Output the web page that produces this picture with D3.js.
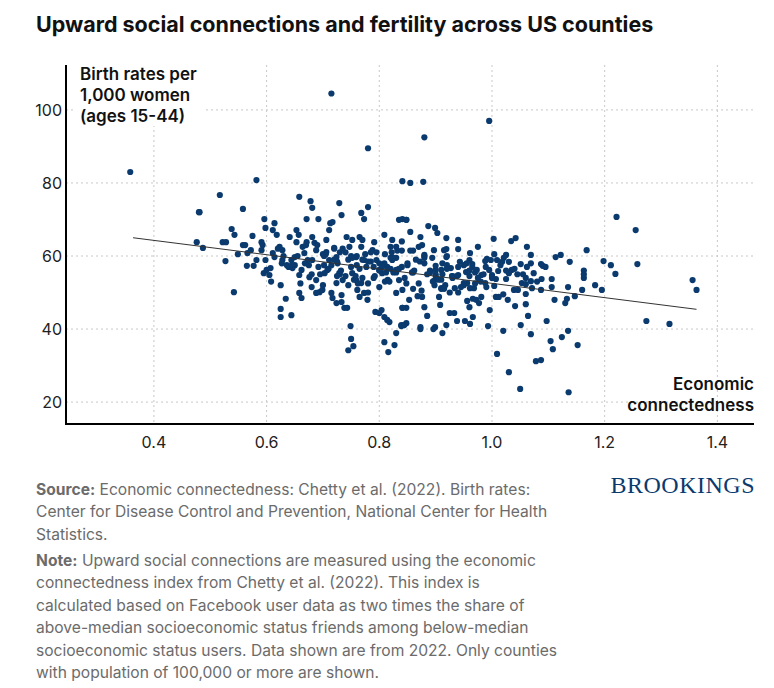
<!DOCTYPE html><html><head><meta charset="utf-8">
<script src="https://cdn.jsdelivr.net/npm/d3@7"></script>
<style>body{margin:0;background:#fff;font-family:Inter,"Open Sans",sans-serif}</style></head><body>
<svg id="c" width="774" height="688"></svg>
<script>
const xTicks=[0.4,0.6,0.8,1.0,1.2,1.4];
const yTicks=[20,40,60,80,100];
const trend=[[0.363,65],[1.363,45.4]];
const ecX=[0.358,0.48,0.517,0.582,0.715,0.78,0.88,0.995,0.855,0.878,0.841,1.221,1.255,1.258,1.274,1.315,1.356,1.363,1.219,1.211,1.198,1.195,1.183,1.168,1.163,1.163,1.163,1.16,1.152,1.136,1.138,1.147,1.135,1.133,1.13,1.135,1.124,1.108,1.104,1.097,1.087,1.078,1.111,1.122,1.113,1.106,1.106,1.095,1.09,1.087,1.088,1.087,1.069,1.069,1.074,1.069,1.071,1.062,1.051,1.062,1.053,1.06,1.06,1.06,1.064,1.069,1.051,1.05,1.03,1.009,1.02,1.042,1.034,1.003,1.039,1.046,1.041,1.028,1.025,1.021,1.018,1.03,1.035,1.03,1.025,1.011,1.007,1.004,1.007,1.012,1.004,1.009,0.998,0.991,0.988,0.996,0.993,0.989,0.995,1.0,0.988,0.975,0.961,0.96,0.965,0.965,0.973,0.981,0.975,0.968,0.961,0.956,0.95,0.966,0.972,0.977,0.981,0.956,0.96,0.966,0.961,0.952,0.938,0.933,0.925,0.94,0.94,0.943,0.95,0.954,0.94,0.934,0.927,0.929,0.919,0.919,0.919,0.915,0.912,0.91,0.917,0.91,0.906,0.908,0.919,0.912,0.899,0.896,0.897,0.894,0.9,0.9,0.897,0.885,0.887,0.899,0.903,0.873,0.873,0.876,0.88,0.873,0.876,0.88,0.848,0.844,0.839,0.848,0.841,0.853,0.855,0.848,0.841,0.481,0.558,0.658,0.678,0.681,0.729,0.733,0.768,0.773,0.78,0.596,0.614,0.598,0.671,0.692,0.713,0.717,0.538,0.543,0.575,0.476,0.487,0.522,0.528,0.527,0.542,0.549,0.558,0.562,0.565,0.577,0.566,0.572,0.582,0.591,0.593,0.591,0.595,0.6,0.605,0.607,0.598,0.611,0.618,0.611,0.614,0.625,0.634,0.625,0.625,0.644,0.623,0.628,0.628,0.627,0.641,0.653,0.657,0.653,0.639,0.646,0.644,0.65,0.658,0.662,0.658,0.662,0.664,0.671,0.667,0.673,0.681,0.685,0.688,0.681,0.676,0.688,0.68,0.694,0.699,0.688,0.706,0.711,0.706,0.711,0.708,0.703,0.715,0.717,0.724,0.733,0.733,0.72,0.724,0.726,0.729,0.735,0.724,0.738,0.743,0.749,0.75,0.745,0.754,0.742,0.747,0.752,0.759,0.765,0.768,0.77,0.773,0.777,0.752,0.759,0.761,0.768,0.773,0.765,0.779,0.791,0.788,0.795,0.8,0.805,0.809,0.814,0.793,0.8,0.804,0.809,0.814,0.818,0.83,0.809,0.827,0.816,0.809,0.823,0.83,0.835,0.848,0.823,0.83,0.835,0.841,0.83,0.841,0.839,0.844,
0.70,0.72,0.74,0.76,0.78,0.80,0.82,0.84,0.86,0.88,0.90,0.92,0.71,0.73,0.75,0.77,0.79,0.81,0.83,0.85,0.87,0.89,0.91,0.93,0.95,0.97,0.99,0.70,0.74,0.78,0.82,0.86,0.90,0.94,0.98,1.02,0.72,0.76,0.80,0.84,0.88,0.92,0.96,1.00,0.69,0.73,0.77,0.81,0.85,0.89,0.93,0.97,0.75,0.79,0.83,0.87,0.91,0.66,0.68,0.86,0.88,0.82,0.84,0.78,0.80,0.92,0.94,0.96,1.04,1.06,1.08,0.63,0.65,0.67,0.855,0.865,0.875,0.815,0.825,0.835,0.785,0.795,0.745,0.755,0.905,0.915,0.925,0.985,1.015,1.045,0.705,0.715,0.725,0.735,0.765,0.775,
0.645,0.655,0.675,0.695,0.725,0.745,0.785,0.805,0.825,0.845,0.862,0.885,0.895,0.945,0.955,1.025,1.055,0.608,0.62,0.636,0.702,0.732,0.752,0.812,0.832,0.858,0.872,0.898,0.912,0.938,0.702,0.762,0.792,0.822,0.848,0.868,0.692,0.668,0.758,0.818];
const birthRate=[83,72,76.7,80.8,104.5,89.5,92.5,97,80,80.3,80.5,70.7,67.1,57.8,42.2,41.4,53.4,50.7,55.1,57.5,58.6,50.7,52,61.6,56,54,55,50.7,35.6,22.7,58.4,49,51.5,48.3,47.1,39.5,37.8,34.5,36.7,42.2,31.5,31.2,48,60.3,59.7,53.7,51.5,57,57.3,57.8,53.7,50.7,60.3,58,55.3,53.1,51.2,62.5,57.8,57,52.6,52.3,49.6,46.8,43.6,38.6,41.1,23.6,28.2,33.2,39.5,64.9,64.1,64.7,50.7,50.7,46.3,48,60.3,59.5,58.4,58.4,56.2,55.3,53.7,55.9,53.7,51.8,48.8,48.8,60.5,58.9,58.9,59.2,58.6,45.2,40.8,57,56.2,54.8,52.6,62.5,60.8,58.9,57.8,57,56.2,54.8,54,51.2,51.2,52.6,52.6,48.3,48,47.1,48.8,47.7,46,43.3,41.4,42.2,42.2,44.4,44.4,64.4,61.9,58.4,57.5,55.6,54.8,51.2,56.7,54.5,64.9,61.9,59.7,61.6,58,56.2,52,51.2,48.8,46.6,41.1,38.9,40.5,40,61.6,59.5,57.3,56.2,53.2,43.6,68.2,67.7,66.3,40.5,40,48.8,46,65.2,63,60.3,41.6,41.1,40.8,45.8,45.8,48,66.6,69.9,70.1,72,72.9,76.2,75,73.2,74.5,71.2,71.8,70.1,73.4,70.1,69,67.7,70.1,70.1,69,69.3,67.4,65.8,65.5,63.8,62.2,63.8,63.8,58.6,50.1,60.5,63,63,57.3,57.3,60.8,61.6,58.9,63.8,63,61.6,55.3,56.2,54.8,56.7,58.9,67.1,65.8,60.8,59.7,52,48.3,45.5,43.3,43.8,62.5,61.6,58.9,58,65.2,67.1,65.8,63.8,57,56.7,58.9,59.7,54.8,56.2,49.9,48.5,62.5,63.8,60.8,58.9,65.2,63.6,61.6,58.9,54.2,53.4,51.5,50.1,50.7,49.9,64.4,67.1,61.1,58.9,56.2,55.3,49.9,48.5,47.1,49.3,47.4,62.2,59.7,58,55.3,53.4,52.6,45.8,45.8,40.8,37.3,34.2,35.3,65.2,62.5,64.4,59.7,65.2,62.5,64.4,58.9,57,55.3,53.4,50.7,52.6,49.9,48.8,48,63.8,61.6,58.9,56.2,55.3,58,57,44.7,44.4,45.2,43.3,42.5,41.9,38.9,36.4,35.6,33.7,65.8,64.4,62.5,69.9,69.9,58.9,56.2,53.4,50.7,49.9,45.8,41.1,41.1,
60.5,59,61,57.5,58.5,56,59.5,57,55.5,58,54.5,56.5,56.5,55,60,54,57,53,55.5,57.5,52.5,56,53.5,54.5,52,55.5,51.5,52,54.5,52.5,56.5,51,55,50,53,49.5,62,60,58,61.5,59.5,57.5,56,54,63,61,59,60.5,58,55.5,54,52.5,57,54,59.5,62.5,51,52.5,55,61.5,60,62.5,64,50,51.5,60,57,54.5,56.5,54,53,60,57.5,63,61.5,59,50.5,53.5,55.5,56.5,58.5,61,52,53.5,53.5,51,50,55,57.5,55,60.5,57.5,54.5,62,56.5,60.5,57.5,
60,57.5,55,58.5,59,61,57,59.5,54,56,55,53,51.5,58,56,55,53,62,57.5,60,56,59.5,55.5,61.5,55.5,58.5,52,55,54.5,57.5,52.5,54.5,61,52.5,49,57,58,54.5,53,63];
const W=774,H=688,L=66,R=754,T=65,B=424;
const svg=d3.select("#c");
const x=d3.scaleLinear().domain([0.244,1.465]).range([L,R]);
const y=d3.scaleLinear().domain([14,112.3]).range([B,T]);
svg.append("text").attr("x",36).attr("y",32).attr("font-size",21.5).attr("font-weight",700).attr("fill","#111").text("Upward social connections and fertility across US counties");
svg.append("g").selectAll("line").data(yTicks).join("line").attr("x1",L).attr("x2",R).attr("y1",d=>y(d)).attr("y2",d=>y(d)).attr("stroke","#c8c8c8").attr("stroke-dasharray","2,3");
svg.append("g").selectAll("line").data(xTicks).join("line").attr("y1",T).attr("y2",B).attr("x1",d=>x(d)).attr("x2",d=>x(d)).attr("stroke","#c8c8c8").attr("stroke-dasharray","2,3");
const pts=ecX.map((v,i)=>[v,birthRate[i]]);
svg.append("g").selectAll("circle").data(pts).join("circle").attr("cx",d=>x(d[0])).attr("cy",d=>y(d[1])).attr("r",3.1).attr("fill","#0a3a6e");
svg.append("line").attr("x1",x(trend[0][0])).attr("y1",y(trend[0][1])).attr("x2",x(trend[1][0])).attr("y2",y(trend[1][1])).attr("stroke","#333").attr("stroke-width",1);
svg.append("line").attr("x1",L).attr("x2",L).attr("y1",T).attr("y2",B+1).attr("stroke","#000").attr("stroke-width",2);
svg.append("line").attr("x1",L).attr("x2",R).attr("y1",B).attr("y2",B).attr("stroke","#000").attr("stroke-width",2);
svg.append("g").selectAll("text").data(yTicks).join("text").attr("x",62).attr("y",d=>y(d)+6).attr("text-anchor","end").attr("font-size",16).attr("fill","#222").text(d=>d);
svg.append("g").selectAll("text").data(xTicks).join("text").attr("x",d=>x(d)).attr("y",448).attr("text-anchor","middle").attr("font-size",16).attr("fill","#222").text(d=>d.toFixed(1));
const yl=["Birth rates per","1,000 women","(ages 15-44)"];
svg.append("rect").attr("x",76).attr("y",62).attr("width",130).attr("height",64).attr("fill","#fff");
svg.append("g").selectAll("text").data(yl).join("text").attr("x",80).attr("y",(d,i)=>80+i*21).attr("font-size",17).attr("font-weight",600).attr("fill","#111").text(d=>d);
const xl=["Economic","connectedness"];
svg.append("g").selectAll("text").data(xl).join("text").attr("x",754).attr("y",(d,i)=>390+i*21).attr("text-anchor","end").attr("font-size",17).attr("font-weight",600).attr("fill","#111").text(d=>d);
svg.append("text").attr("x",755).attr("y",493).attr("text-anchor","end").attr("font-family","'Liberation Serif',serif").attr("font-size",24).attr("fill","#0a3a6e").attr("letter-spacing",0.5).text("BROOKINGS");
const src=[["Source:"," Economic connectedness: Chetty et al. (2022). Birth rates:"],["","Center for Disease Control and Prevention, National Center for Health"],["","Statistics."]];
const note=[["Note:"," Upward social connections are measured using the economic"],["","connectedness index from Chetty et al. (2022). This index is"],["","calculated based on Facebook user data as two times the share of"],["","above-median socioeconomic status friends among below-median"],["","socioeconomic status users. Data shown are from 2022. Only counties"],["","with population of 100,000 or more are shown."]];
function foot(lines,y0){lines.forEach((l,i)=>{const t=svg.append("text").attr("x",36).attr("y",y0+i*22.4).attr("font-size",15.6).attr("fill","#6b6b6b");t.append("tspan").attr("font-weight",700).text(l[0]);t.append("tspan").text(l[1]);});}
foot(src,495);foot(note,566);
</script></body></html>
